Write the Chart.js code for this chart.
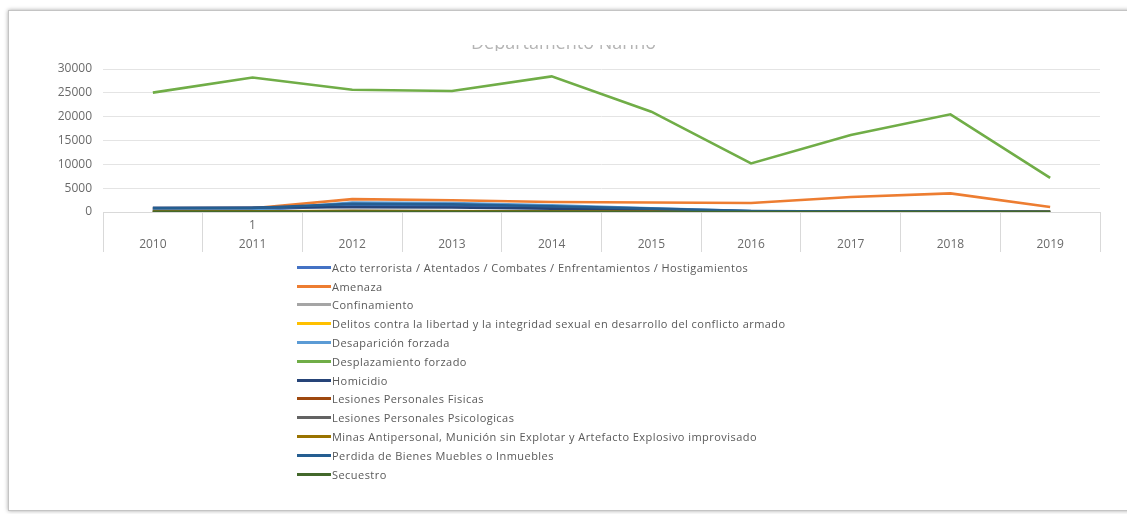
<!DOCTYPE html>
<html>
<head>
<meta charset="utf-8">
<script src="https://cdn.jsdelivr.net/npm/chart.js@4.4.1/dist/chart.umd.min.js"></script>
<style>
  body { margin: 0; background: #fff; font-family: "Open Sans", sans-serif; }
  #frame {
    position: absolute; left: 8px; top: 10px; width: 1130px; height: 499px;
    border: 1px solid #c4c4c4; box-shadow: 0 0 4px rgba(0, 0, 0, 0.35);
  }
  #wrap { position: absolute; left: 0; top: 0; width: 1127px; height: 260px; }
  #title {
    position: absolute; left: 0; top: 45px; width: 1127px; height: 6px;
    overflow: hidden; text-align: center;
  }
  #title span {
    display: block; margin-top: -13px; line-height: 20px;
    font-size: 18px; color: #b4b4b4;
  }
  #legend { position: absolute; left: 297px; top: 258px; }
  .item {
    height: 18.8px; display: flex; align-items: center;
    font-size: 11px; letter-spacing: 0.45px; color: #595959; white-space: nowrap;
  }
  .swatch { width: 34px; height: 3px; margin-right: 1px; }
</style>
</head>
<body>
<div id="frame"></div>
<div id="wrap"><canvas id="chart" width="1127" height="260"></canvas></div>
<div id="title"><span>Departamento Nariño</span></div>
<div id="legend"></div>
<script>
const years = ['2010', '2011', '2012', '2013', '2014', '2015', '2016', '2017', '2018', '2019'];
const topRow = ['', '1', '', '', '', '', '', '', '', ''];
const yTicks = [0, 5000, 10000, 15000, 20000, 25000, 30000];

const seriesNames = [
    'Acto terrorista / Atentados / Combates / Enfrentamientos / Hostigamientos',
    'Amenaza',
    'Confinamiento',
    'Delitos contra la libertad y la integridad sexual en desarrollo del conflicto armado',
    'Desaparición forzada',
    'Desplazamiento forzado',
    'Homicidio',
    'Lesiones Personales Fisicas',
    'Lesiones Personales Psicologicas',
    'Minas Antipersonal, Munición sin Explotar y Artefacto Explosivo improvisado',
    'Perdida de Bienes Muebles o Inmuebles',
    'Secuestro'
];

const acto = [400, 500, 1300, 1200, 900, 500, 100, 50, 60, 10];
const amenaza = [700, 800, 2700, 2450, 2100, 2000, 1900, 3150, 3900, 1050];
const confinamiento = [0, 0, 300, 200, 100, 50, 0, 0, 0, 0];
const delitosSexuales = [20, 30, 60, 80, 90, 70, 50, 60, 80, 20];
const desaparicion = [300, 350, 2000, 1900, 1400, 800, 200, 100, 100, 20];
const desplazamiento = [25050, 28200, 25650, 25400, 28450, 21050, 10200, 16150, 20500, 7150];
const homicidio = [900, 950, 1000, 950, 700, 450, 150, 80, 80, 20];
const lesionesFisicas = [50, 60, 80, 70, 40, 30, 10, 10, 10, 2];
const lesionesPsicologicas = [0, 0, 10, 10, 5, 5, 0, 0, 0, 0];
const minas = [100, 150, 200, 150, 80, 40, 20, 10, 10, 2];
const perdidaBienes = [800, 850, 1700, 1600, 1200, 700, 200, 100, 80, 10];
const secuestro = [50, 40, 30, 20, 20, 10, 5, 5, 5, 0];

const seriesValues = [acto, amenaza, confinamiento, delitosSexuales, desaparicion, desplazamiento,
    homicidio, lesionesFisicas, lesionesPsicologicas, minas, perdidaBienes, secuestro];

const colors = ['#4472C4', '#ED7D31', '#A5A5A5', '#FFC000', '#5B9BD5', '#70AD47',
    '#264478', '#9E480E', '#636363', '#997300', '#255E91', '#43682B'];

const axisFont = { family: '"Open Sans", sans-serif', size: 12 };

// later series on top, like in Excel
const datasets = seriesNames.map((name, i) => ({
    label: name,
    data: seriesValues[i],
    borderColor: colors[i],
    backgroundColor: colors[i],
    borderWidth: 2.6,
    pointRadius: 0,
    tension: 0,
    order: seriesNames.length - i
}));

const ctx = document.getElementById('chart').getContext('2d');
const myChart = new Chart(ctx, {
    type: 'line',
    data: {
        labels: years.map((y, i) => [topRow[i], y]),
        datasets: datasets
    },
    options: {
        responsive: false,
        animation: false,
        layout: { padding: { top: 69, right: 27, bottom: 6, left: 0 } },
        plugins: {
            legend: { display: false },
            tooltip: { enabled: false }
        },
        scales: {
            x: {
                offset: true,
                afterFit: (scale) => { scale.height = 42; },
                grid: { offset: true, drawOnChartArea: false, tickLength: 40, color: '#d9d9d9' },
                border: { display: true, color: '#d9d9d9' },
                ticks: { padding: -36, color: '#6a6a6a', font: { ...axisFont, lineHeight: 1.58 }, maxRotation: 0, autoSkip: false }
            },
            y: {
                min: 0,
                max: yTicks[yTicks.length - 1],
                afterBuildTicks: (scale) => { scale.ticks = yTicks.map(v => ({ value: v })); },
                afterFit: (scale) => { scale.width = 103; },
                grid: { drawTicks: false, color: '#e4e4e4' },
                border: { display: false },
                ticks: { padding: 11, color: '#6a6a6a', font: axisFont, callback: (v) => String(v) }
            }
        }
    }
});

// vertical legend under the chart
const legendEl = document.getElementById('legend');
seriesNames.forEach((name, i) => {
    const item = document.createElement('div');
    item.className = 'item';
    const sw = document.createElement('span');
    sw.className = 'swatch';
    sw.style.background = colors[i];
    const txt = document.createElement('span');
    txt.textContent = name;
    item.appendChild(sw);
    item.appendChild(txt);
    legendEl.appendChild(item);
});
</script>
</body>
</html>
